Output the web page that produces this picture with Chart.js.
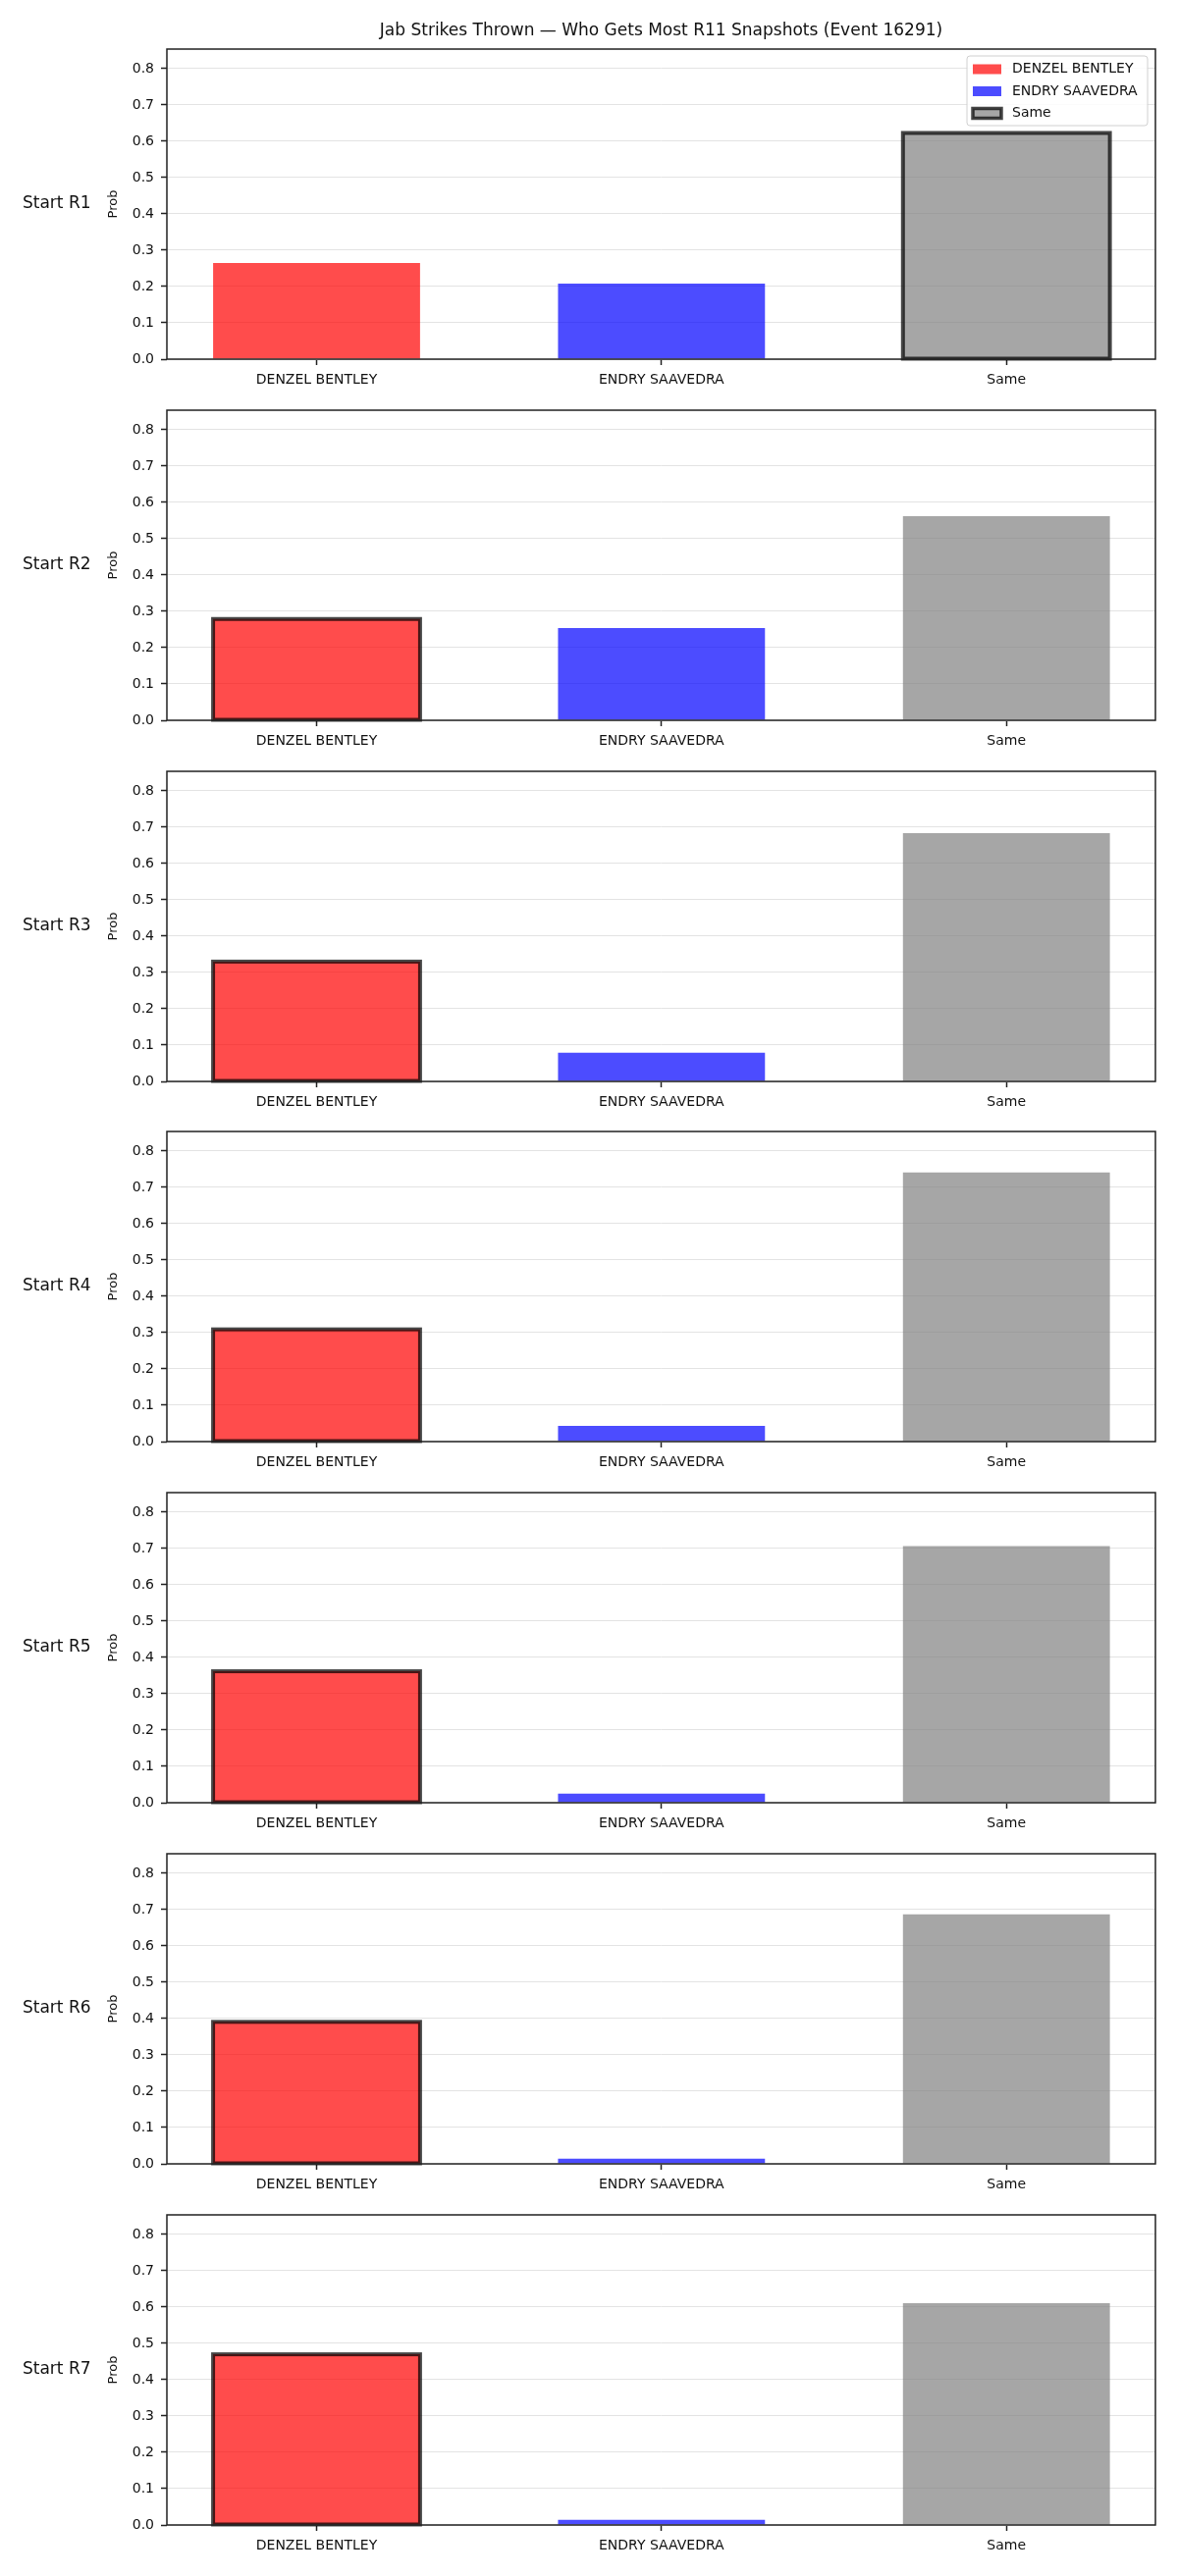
<!DOCTYPE html>
<html>
<head>
<meta charset="utf-8">
<script src="https://cdn.jsdelivr.net/npm/chart.js@4.4.0/dist/chart.umd.min.js"></script>
<style>
  body { margin: 0; background: #fff; width: 1200px; height: 2625px; position: relative; overflow: hidden; }
  .panel { position: absolute; left: 0; width: 1200px; height: 416px; }
</style>
</head>
<body>
<script>
// data
const categories = ['DENZEL BENTLEY', 'ENDRY SAAVEDRA', 'Same'];
const roundLabels = ['Start R1', 'Start R2', 'Start R3', 'Start R4', 'Start R5', 'Start R6', 'Start R7'];
const denzel = [0.265, 0.279, 0.330, 0.309, 0.362, 0.391, 0.470];
const endry  = [0.208, 0.254, 0.079, 0.043, 0.025, 0.014, 0.014];
const same   = [0.623, 0.562, 0.684, 0.741, 0.707, 0.687, 0.611];
const highlightIdx = [2, 0, 0, 0, 0, 0, 0];
const yTicks = [0, 0.1, 0.2, 0.3, 0.4, 0.5, 0.6, 0.7, 0.8];
const yMax = 0.854;
const titleText = 'Jab Strikes Thrown \u2014 Who Gets Most R11 Snapshots (Event 16291)';

const fills = ['rgba(255,0,0,0.7)', 'rgba(0,0,255,0.7)', 'rgba(128,128,128,0.7)'];
const edge = 'rgba(0,0,0,0.72)';

Chart.defaults.font.family = '"DejaVu Sans", sans-serif';
Chart.defaults.color = '#111';

// outline for the highlighted bar, stroked centred on the bar edge
const highlightPlugin = {
  id: 'highlight',
  afterDatasetsDraw(chart, args, opts) {
    const el = chart.getDatasetMeta(0).data[opts.index];
    if (!el) return;
    const { x, y, base, width } = el.getProps(['x', 'y', 'base', 'width'], true);
    const ctx = chart.ctx;
    ctx.save();
    ctx.strokeStyle = edge;
    ctx.lineWidth = 4;
    ctx.strokeRect(x - width / 2, y, width, base - y);
    ctx.restore();
  }
};

const framePlugin = {
  id: 'frame',
  afterDraw(chart) {
    const { ctx, chartArea: a } = chart;
    ctx.save();
    ctx.strokeStyle = '#222';
    ctx.lineWidth = 1.5;
    ctx.strokeRect(a.left, a.top, a.right - a.left, a.bottom - a.top);
    ctx.restore();
  }
};

const rowLabelPlugin = {
  id: 'rowLabel',
  afterDraw(chart, args, opts) {
    const { ctx, chartArea: a } = chart;
    ctx.save();
    ctx.font = '17px "DejaVu Sans"';
    ctx.fillStyle = '#111';
    ctx.textAlign = 'left';
    ctx.textBaseline = 'middle';
    ctx.fillText(opts.text, 23, (a.top + a.bottom) / 2);
    ctx.restore();
  }
};

const boxLegendPlugin = {
  id: 'boxLegend',
  afterDraw(chart, args, opts) {
    if (!opts.show) return;
    const { ctx, chartArea: a } = chart;
    const w = 184, h = 71;
    const x0 = a.right - 8 - w, y0 = a.top + 7;
    ctx.save();
    ctx.beginPath();
    ctx.roundRect(x0, y0, w, h, 3);
    ctx.fillStyle = 'rgba(255,255,255,0.85)';
    ctx.fill();
    ctx.strokeStyle = '#d0d0d0';
    ctx.lineWidth = 1;
    ctx.stroke();
    ctx.font = '14px "DejaVu Sans"';
    ctx.textAlign = 'left';
    ctx.textBaseline = 'middle';
    categories.forEach((c, i) => {
      const cy = y0 + 13.5 + i * 22.5;
      ctx.fillStyle = fills[i];
      ctx.fillRect(x0 + 6, cy - 5, 29, 10);
      if (i === 2) {
        ctx.strokeStyle = edge;
        ctx.lineWidth = 3.5;
        ctx.strokeRect(x0 + 6, cy - 5, 29, 10);
      }
      ctx.fillStyle = '#111';
      ctx.fillText(c, x0 + 46, cy);
    });
    ctx.restore();
  }
};

roundLabels.forEach((lab, i) => {
  const div = document.createElement('div');
  div.className = 'panel';
  div.style.top = Math.round(367.8 * i) + 'px';
  const cv = document.createElement('canvas');
  cv.width = 1200; cv.height = 416;
  div.appendChild(cv);
  document.body.appendChild(div);

  const vals = [denzel[i], endry[i], same[i]];

  new Chart(cv, {
    type: 'bar',
    data: {
      datasets: [{
        data: vals.map((v, k) => ({ x: k, y: v })),
        backgroundColor: fills,
        borderWidth: 0,
        categoryPercentage: 1,
        barPercentage: 0.6
      }]
    },
    options: {
      responsive: false,
      animation: false,
      devicePixelRatio: 1,
      layout: { padding: { top: i === 0 ? 0 : 50, right: 23, left: 0, bottom: 0 } },
      plugins: {
        legend: { display: false },
        tooltip: { enabled: false },
        title: {
          display: i === 0,
          text: titleText,
          fullSize: false,
          font: { size: 17, weight: 'normal' },
          color: '#111',
          padding: { top: 21, bottom: 8.6 }
        },
        highlight: { index: highlightIdx[i] },
        rowLabel: { text: lab },
        boxLegend: { show: i === 0 }
      },
      scales: {
        x: {
          type: 'linear',
          min: -0.434,
          max: 2.432,
          offset: false,
          afterFit(s) { s.height = 50; },
          afterBuildTicks(s) { s.ticks = categories.map((c, k) => ({ value: k })); },
          ticks: {
            callback: v => categories[v],
            padding: 7,
            autoSkip: false,
            maxRotation: 0,
            font: { size: 14 },
            color: '#111'
          },
          grid: { offset: false, drawOnChartArea: false, tickColor: '#222', tickLength: 6, tickWidth: 1.5 },
          border: { display: false }
        },
        y: {
          type: 'linear',
          min: 0,
          max: yMax,
          afterFit(s) { s.width = 170; },
          afterBuildTicks(s) { s.ticks = yTicks.map(v => ({ value: v })); },
          ticks: {
            callback: v => v.toFixed(1),
            padding: 7,
            font: { size: 14 },
            color: '#111'
          },
          grid: { color: '#e3e3e3', lineWidth: 1, tickColor: '#222', tickLength: 6, tickWidth: 1.5 },
          border: { display: false },
          title: {
            display: true,
            text: 'Prob',
            font: { size: 13 },
            color: '#111',
            padding: { top: 108, bottom: 0 }
          }
        }
      }
    },
    plugins: [highlightPlugin, framePlugin, rowLabelPlugin, boxLegendPlugin]
  });
});
</script>
</body>
</html>
